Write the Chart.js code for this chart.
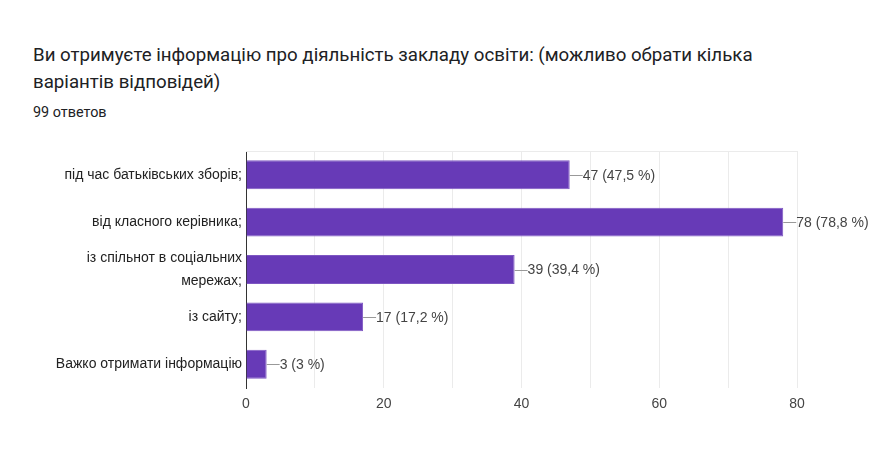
<!DOCTYPE html>
<html>
<head>
<meta charset="utf-8">
<script src="https://cdn.jsdelivr.net/npm/chart.js@4"></script>
<style>
  body { margin: 0; background: #fff; }
  #wrap { position: relative; width: 885px; height: 450px; }
  #titulo { position: absolute; left: 33px; top: 42px; width: 760px; font-family: Roboto, sans-serif; font-size: 18.7px; line-height: 27px; color: #202124; }
  #respuestas { position: absolute; left: 33px; top: 104px; font-family: Roboto, sans-serif; font-size: 14.4px; color: #202124; }
  canvas { position: absolute; left: 0; top: 0; }
</style>
</head>
<body>
<div id="wrap">
  <div id="titulo">Ви отримуєте інформацію про діяльність закладу освіти: (можливо обрати кілька варіантів відповідей)</div>
  <div id="respuestas">99 ответов</div>
  <canvas id="grafico" width="885" height="450"></canvas>
</div>
<script>
// datos
const categorias = [
    'під час батьківських зборів;',
    'від класного керівника;',
    ['із спільнот в соціальних', 'мережах;'],
    'із сайту;',
    'Важко отримати інформацію'
];
const respuestas = [47, 78, 39, 17, 3];
const totalRespuestas = 99;
const ticksX = [0, 20, 40, 60, 80];

const fuente = "'Liberation Sans', Arial, sans-serif";

// etiqueta "47 (47,5 %)" con una linea corta desde el final de la barra
const etiquetas = {
    id: 'etiquetas',
    afterDatasetsDraw(chart) {
        const ctx = chart.ctx;
        const meta = chart.getDatasetMeta(0);
        ctx.save();
        ctx.font = '14px ' + fuente;
        ctx.textBaseline = 'middle';
        meta.data.forEach(function(bar, i) {
            const v = respuestas[i];
            let pct = Math.round(v / totalRespuestas * 1000) / 10;
            const txt = v + ' (' + String(pct).replace('.', ',') + ' %)';
            ctx.strokeStyle = '#999';
            ctx.lineWidth = 1;
            ctx.beginPath();
            ctx.moveTo(bar.x, Math.round(bar.y) + 0.5);
            ctx.lineTo(bar.x + 13, Math.round(bar.y) + 0.5);
            ctx.stroke();
            ctx.fillStyle = '#444';
            ctx.fillText(txt, bar.x + 13, bar.y + 1);
        });
        ctx.restore();
    }
};

// borde superior del area del grafico
const borde = {
    id: 'borde',
    beforeDatasetsDraw(chart) {
        const a = chart.chartArea;
        const ctx = chart.ctx;
        ctx.save();
        ctx.strokeStyle = '#ebebeb';
        ctx.lineWidth = 1;
        ctx.beginPath();
        ctx.moveTo(a.left, a.top + 0.5);
        ctx.lineTo(a.right, a.top + 0.5);
        ctx.stroke();
        ctx.restore();
    }
};

new Chart(document.getElementById('grafico'), {
    type: 'bar',
    data: {
        labels: categorias,
        datasets: [{
            data: respuestas,
            backgroundColor: '#673ab7',
            borderColor: '#7e57c2',
            borderWidth: 1,
            barPercentage: 0.61,
            categoryPercentage: 1
        }]
    },
    options: {
        indexAxis: 'y',
        responsive: false,
        animation: false,
        layout: { padding: { top: 151, left: 33, right: 88, bottom: 0 } },
        scales: {
            x: {
                min: 0,
                max: 80,
                afterBuildTicks: function(scale) {
                    const t = [];
                    for (let v = 0; v <= 80; v += 10) t.push({ value: v });
                    scale.ticks = t;
                },
                afterFit: function(scale) { scale.height = 62; },
                grid: { color: '#ebebeb', drawTicks: false },
                border: { display: false },
                ticks: {
                    padding: 8,
                    color: '#444',
                    font: { family: fuente, size: 14 },
                    callback: function(v) { return ticksX.includes(v) ? v : ''; }
                }
            },
            y: {
                afterFit: function(scale) { scale.width = 213; },
                grid: { display: false, drawTicks: false },
                border: { display: true, color: '#333', width: 1 },
                ticks: {
                    autoSkip: false,
                    padding: 4,
                    color: '#222',
                    font: { family: fuente, size: 14, lineHeight: 1.6 }
                }
            }
        },
        plugins: {
            legend: { display: false },
            tooltip: { enabled: false }
        }
    },
    plugins: [borde, etiquetas]
});
</script>
</body>
</html>
